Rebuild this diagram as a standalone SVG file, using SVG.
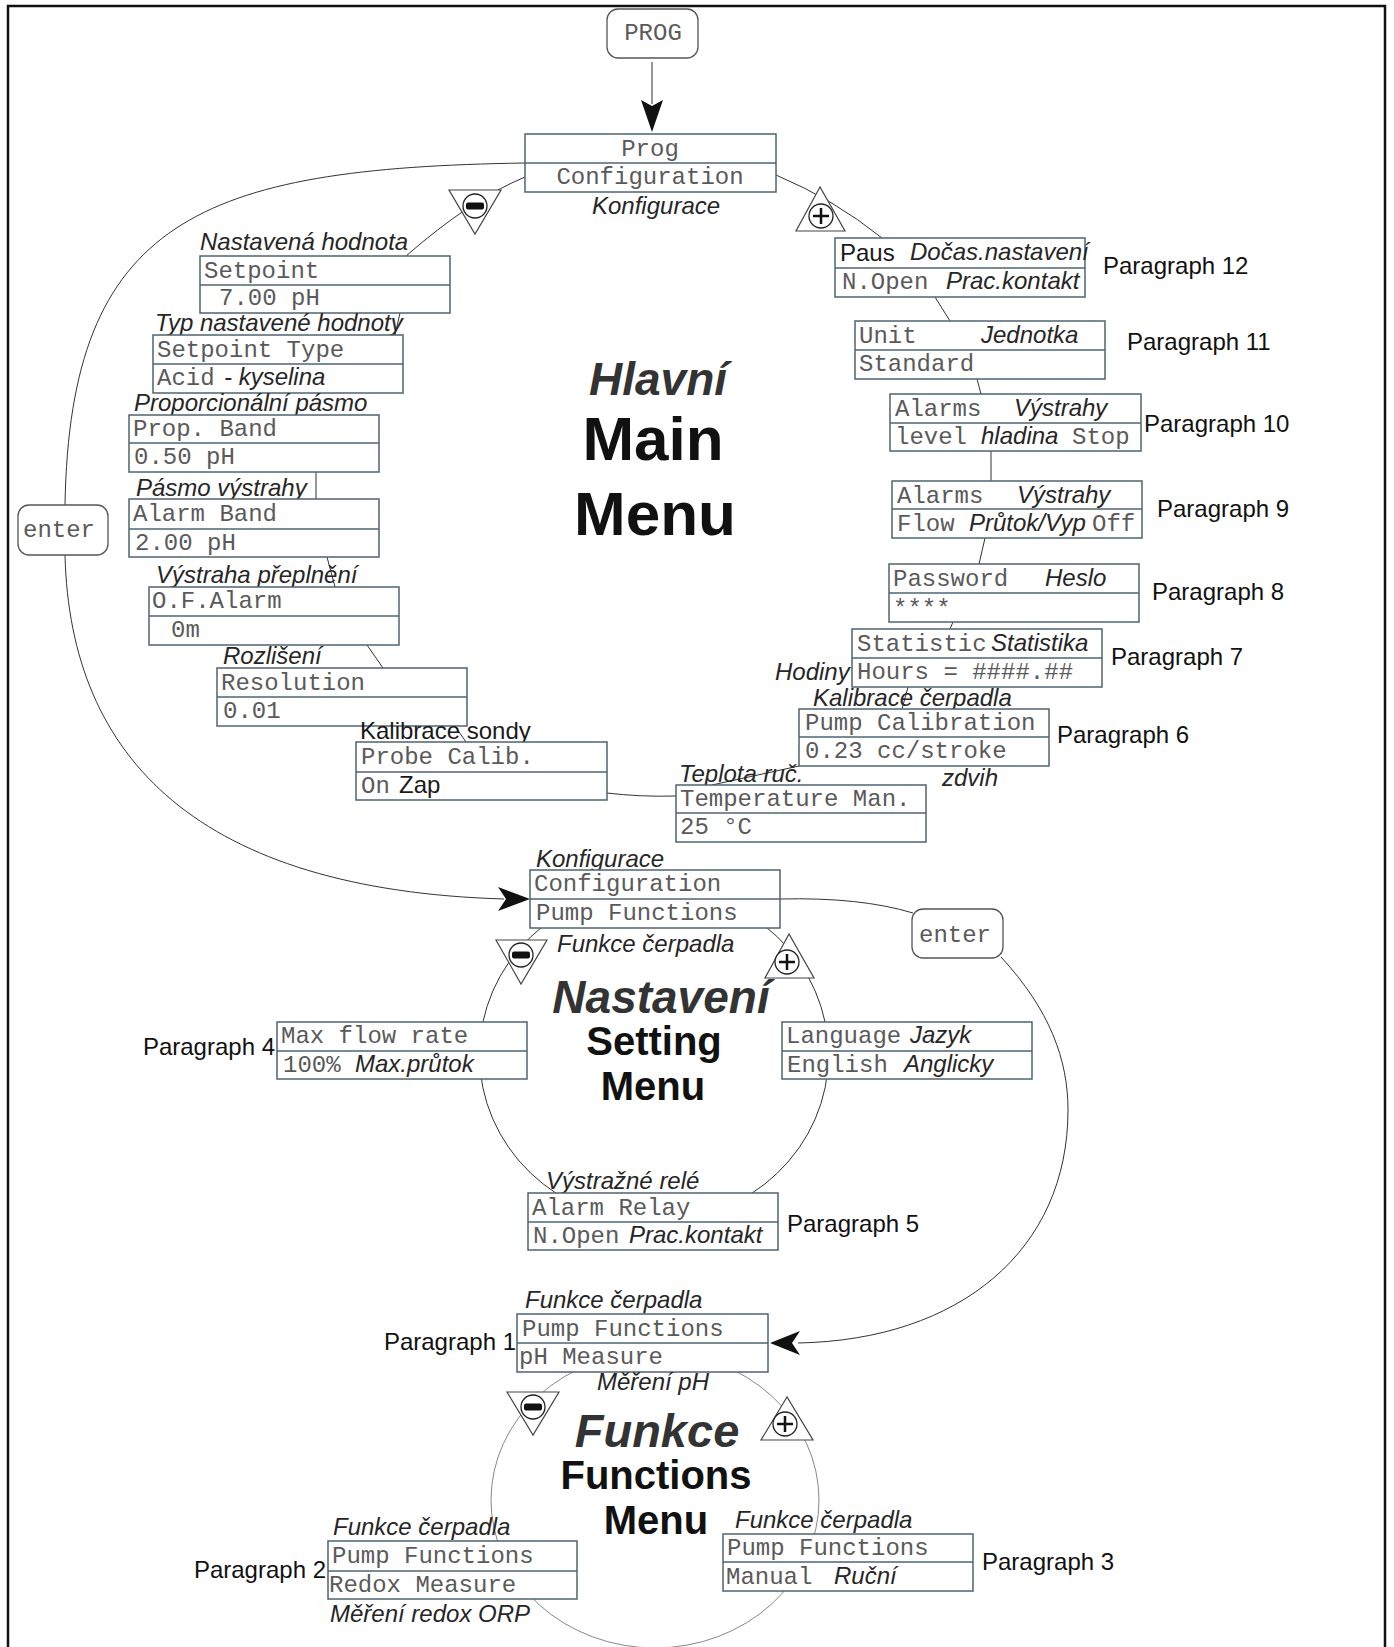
<svg xmlns="http://www.w3.org/2000/svg" width="1394" height="1647" viewBox="0 0 1394 1647">
<style>
.box{fill:#fff;stroke:#4d6470;stroke-width:1.5}
.dv{stroke:#4d6470;stroke-width:1.5}
.rbox{fill:#fff;stroke:#555;stroke-width:1.3}
.m{font-family:"Liberation Mono","Courier New",monospace;font-size:24px;fill:#5a5a5a}
.i{font-family:"Liberation Sans",Arial,sans-serif;font-style:italic;font-size:24px;fill:#262626}
.u{font-family:"Liberation Sans",Arial,sans-serif;font-size:24px;fill:#1a1a1a}
.p{font-family:"Liberation Sans",Arial,sans-serif;font-size:24px;fill:#111}
.ti{font-family:"Liberation Sans",Arial,sans-serif;font-style:italic;font-weight:bold;fill:#333;text-anchor:middle}
.tb{font-family:"Liberation Sans",Arial,sans-serif;font-weight:bold;fill:#111;text-anchor:middle}
.c{fill:none;stroke:#333;stroke-width:1}
.cl{fill:none;stroke:#888;stroke-width:1}
.tri{fill:#fff;stroke:#444;stroke-width:1.2}
.ring{fill:#fff;stroke:#222;stroke-width:1.3}
.ah{fill:#111}
</style>
<rect x="8" y="6" width="1377" height="1660" fill="#fff" stroke="#111" stroke-width="2.5"/>

<g id="connectors">
  <path class="c" d="M652,62 V104"/>
  <polygon class="ah" points="641,100 652,132 663,100 652,106"/>
  <path class="c" d="M525,163 C200,168 70,220 65,505"/>
  <path class="c" d="M65,555 C70,760 200,890 504,899"/>
  <polygon class="ah" points="530,899 498,887 506,899 498,911"/>
  <path class="c" d="M525,177 Q470,200 406,256"/>
  <path class="c" d="M776,175 Q835,200 882,238"/>
  <path class="c" d="M400,313 L395,335"/>
  <path class="c" d="M316,472 L316,499"/>
  <path class="c" d="M327,557 L335,587"/>
  <path class="c" d="M367,645 L383,668"/>
  <path class="c" d="M455,726 L466,742"/>
  <path class="c" d="M607,793 Q640,797 676,796"/>
  <path class="c" d="M799,766 L712,785"/>
  <path class="c" d="M902,709 L908,687"/>
  <path class="c" d="M950,629 L953,622"/>
  <path class="c" d="M979,564 L985,538"/>
  <path class="c" d="M991,481 L991,451"/>
  <path class="c" d="M981,394 L977,379"/>
  <path class="c" d="M950,321 L935,297"/>
  <ellipse class="c" cx="654" cy="1055" rx="174.5" ry="167"/>
  <path class="c" d="M780,899 Q860,897 913,913"/>
  <path class="c" d="M1001,957 C1050,1010 1068,1060 1068,1110 C1068,1250 960,1340 798,1343"/>
  <polygon class="ah" points="770,1343 800,1331 792,1343 800,1355"/>
  <ellipse class="cl" cx="655" cy="1500" rx="164" ry="148"/>
</g>

<g id="titles">
  <text class="ti" x="658" y="395" font-size="46">Hlavní</text>
  <text class="tb" x="653" y="460" font-size="62">Main</text>
  <text class="tb" x="655" y="535" font-size="62">Menu</text>
  <text class="ti" x="661" y="1013" font-size="46">Nastavení</text>
  <text class="tb" x="654" y="1055" font-size="40">Setting</text>
  <text class="tb" x="653" y="1100" font-size="40">Menu</text>
  <text class="ti" x="657" y="1447" font-size="47">Funkce</text>
  <text class="tb" x="656" y="1489" font-size="40">Functions</text>
  <text class="tb" x="656" y="1534" font-size="40">Menu</text>
</g>

<g id="prog-key">
  <rect class="rbox" x="607" y="9" width="91" height="49" rx="11"/>
  <text class="m" x="653" y="40" text-anchor="middle">PROG</text>
</g>
<g id="enter-key-1">
  <rect class="rbox" x="18" y="505" width="90" height="50" rx="11"/>
  <text class="m" x="23" y="537">enter</text>
</g>
<g id="enter-key-2">
  <rect class="rbox" x="912" y="909" width="91" height="49" rx="11"/>
  <text class="m" x="919" y="942">enter</text>
</g>

<g id="node-prog">
  <rect class="box" x="525" y="134" width="251" height="58"/>
  <line class="dv" x1="525" y1="163" x2="776" y2="163"/>
  <text class="m" x="650" y="156" text-anchor="middle">Prog</text>
  <text class="m" x="650" y="184" text-anchor="middle">Configuration</text>
  <text class="i" x="592" y="214">Konfigurace</text>
</g>

<g id="node-setpoint">
  <text class="i" x="200" y="250">Nastavená hodnota</text>
  <rect class="box" x="200" y="256" width="250" height="57"/>
  <line class="dv" x1="200" y1="285" x2="450" y2="285"/>
  <text class="m" x="204" y="278">Setpoint</text>
  <text class="m" x="219" y="305">7.00 pH</text>
</g>
<g id="node-setpoint-type">
  <text class="i" x="155" y="331">Typ nastavené hodnoty</text>
  <rect class="box" x="153" y="335" width="250" height="58"/>
  <line class="dv" x1="153" y1="364" x2="403" y2="364"/>
  <text class="m" x="157" y="357">Setpoint Type</text>
  <text class="m" x="157" y="385">Acid</text>
  <text class="i" x="224" y="385">- kyselina</text>
</g>
<g id="node-prop-band">
  <text class="i" x="134" y="411">Proporcionální pásmo</text>
  <rect class="box" x="129" y="415" width="250" height="57"/>
  <line class="dv" x1="129" y1="443" x2="379" y2="443"/>
  <text class="m" x="133" y="436">Prop. Band</text>
  <text class="m" x="134" y="464">0.50 pH</text>
</g>
<g id="node-alarm-band">
  <text class="i" x="136" y="496">Pásmo výstrahy</text>
  <rect class="box" x="129" y="499" width="250" height="58"/>
  <line class="dv" x1="129" y1="529" x2="379" y2="529"/>
  <text class="m" x="133" y="521">Alarm Band</text>
  <text class="m" x="135" y="550">2.00 pH</text>
</g>
<g id="node-of-alarm">
  <text class="i" x="156" y="583">Výstraha přeplnění</text>
  <rect class="box" x="149" y="587" width="250" height="58"/>
  <line class="dv" x1="149" y1="616" x2="399" y2="616"/>
  <text class="m" x="152" y="608">O.F.Alarm</text>
  <text class="m" x="171" y="637">0m</text>
</g>
<g id="node-resolution">
  <text class="i" x="223" y="664">Rozlišení</text>
  <rect class="box" x="217" y="668" width="250" height="58"/>
  <line class="dv" x1="217" y1="697" x2="467" y2="697"/>
  <text class="m" x="221" y="690">Resolution</text>
  <text class="m" x="223" y="718">0.01</text>
</g>
<g id="node-probe-calib">
  <text class="u" x="360" y="739">Kalibrace sondy</text>
  <rect class="box" x="356" y="742" width="251" height="58"/>
  <line class="dv" x1="356" y1="772" x2="607" y2="772"/>
  <text class="m" x="361" y="764">Probe Calib.</text>
  <text class="m" x="361" y="793">On</text>
  <text class="u" x="399" y="793">Zap</text>
</g>
<g id="node-temperature">
  <text class="i" x="679" y="782">Teplota ruč.</text>
  <rect class="box" x="676" y="785" width="250" height="57"/>
  <line class="dv" x1="676" y1="813" x2="926" y2="813"/>
  <text class="m" x="680" y="806">Temperature Man.</text>
  <text class="m" x="680" y="834">25 °C</text>
</g>
<g id="node-pump-calibration">
  <text class="i" x="813" y="706">Kalibrace čerpadla</text>
  <rect class="box" x="799" y="709" width="250" height="57"/>
  <line class="dv" x1="799" y1="737" x2="1049" y2="737"/>
  <text class="m" x="805" y="730">Pump Calibration</text>
  <text class="m" x="805" y="758">0.23 cc/stroke</text>
  <text class="i" x="942" y="786">zdvih</text>
  <text class="p" x="1057" y="743">Paragraph 6</text>
</g>
<g id="node-statistic">
  <rect class="box" x="852" y="629" width="250" height="58"/>
  <line class="dv" x1="852" y1="658" x2="1102" y2="658"/>
  <text class="m" x="857" y="651">Statistic</text>
  <text class="i" x="991" y="651">Statistika</text>
  <text class="m" x="857" y="679">Hours = ####.##</text>
  <text class="i" x="775" y="680">Hodiny</text>
  <text class="p" x="1111" y="665">Paragraph 7</text>
</g>
<g id="node-password">
  <rect class="box" x="889" y="564" width="250" height="58"/>
  <line class="dv" x1="889" y1="593" x2="1139" y2="593"/>
  <text class="m" x="893" y="586">Password</text>
  <text class="i" x="1045" y="586">Heslo</text>
  <text class="m" x="893" y="616">****</text>
  <text class="p" x="1152" y="600">Paragraph 8</text>
</g>
<g id="node-alarms-flow">
  <rect class="box" x="892" y="481" width="250" height="57"/>
  <line class="dv" x1="892" y1="509" x2="1142" y2="509"/>
  <text class="m" x="897" y="503">Alarms</text>
  <text class="i" x="1017" y="503">Výstrahy</text>
  <text class="m" x="897" y="531">Flow</text>
  <text class="i" x="969" y="531">Průtok/Vyp</text>
  <text class="m" x="1092" y="531">Off</text>
  <text class="p" x="1157" y="517">Paragraph 9</text>
</g>
<g id="node-alarms-level">
  <rect class="box" x="890" y="394" width="251" height="57"/>
  <line class="dv" x1="890" y1="423" x2="1141" y2="423"/>
  <text class="m" x="895" y="416">Alarms</text>
  <text class="i" x="1014" y="416">Výstrahy</text>
  <text class="m" x="895" y="444">level</text>
  <text class="i" x="981" y="444">hladina</text>
  <text class="m" x="1072" y="444">Stop</text>
  <text class="p" x="1144" y="432">Paragraph 10</text>
</g>
<g id="node-unit">
  <rect class="box" x="855" y="321" width="250" height="58"/>
  <line class="dv" x1="855" y1="350" x2="1105" y2="350"/>
  <text class="m" x="859" y="343">Unit</text>
  <text class="i" x="981" y="343">Jednotka</text>
  <text class="m" x="859" y="371">Standard</text>
  <text class="p" x="1127" y="350">Paragraph 11</text>
</g>
<g id="node-paus">
  <rect class="box" x="835" y="238" width="250" height="59"/>
  <line class="dv" x1="835" y1="268" x2="1085" y2="268"/>
  <text class="u" x="840" y="261" font-size="28">Paus</text>
  <text class="i" x="910" y="260">Dočas.nastavení</text>
  <text class="m" x="842" y="289">N.Open</text>
  <text class="i" x="946" y="289">Prac.kontakt</text>
  <text class="p" x="1103" y="274">Paragraph 12</text>
</g>

<g id="node-config-pump">
  <text class="i" x="536" y="867">Konfigurace</text>
  <rect class="box" x="530" y="870" width="250" height="58"/>
  <line class="dv" x1="530" y1="899" x2="780" y2="899"/>
  <text class="m" x="534" y="891">Configuration</text>
  <text class="m" x="536" y="920">Pump Functions</text>
  <text class="i" x="557" y="952">Funkce čerpadla</text>
</g>
<g id="node-max-flow">
  <rect class="box" x="277" y="1022" width="250" height="57"/>
  <line class="dv" x1="277" y1="1051" x2="527" y2="1051"/>
  <text class="m" x="281" y="1043">Max flow rate</text>
  <text class="m" x="283" y="1072">100%</text>
  <text class="i" x="355" y="1072">Max.průtok</text>
  <text class="p" x="275" y="1055" text-anchor="end">Paragraph 4</text>
</g>
<g id="node-language">
  <rect class="box" x="782" y="1022" width="250" height="57"/>
  <line class="dv" x1="782" y1="1051" x2="1032" y2="1051"/>
  <text class="m" x="786" y="1043">Language</text>
  <text class="i" x="910" y="1043">Jazyk</text>
  <text class="m" x="787" y="1072">English</text>
  <text class="i" x="904" y="1072">Anglicky</text>
</g>
<g id="node-alarm-relay">
  <text class="i" x="546" y="1189">Výstražné relé</text>
  <rect class="box" x="528" y="1193" width="250" height="57"/>
  <line class="dv" x1="528" y1="1222" x2="778" y2="1222"/>
  <text class="m" x="532" y="1215">Alarm Relay</text>
  <text class="m" x="533" y="1243">N.Open</text>
  <text class="i" x="629" y="1243">Prac.kontakt</text>
  <text class="p" x="787" y="1232">Paragraph 5</text>
</g>

<g id="node-ph-measure">
  <text class="i" x="525" y="1308">Funkce čerpadla</text>
  <rect class="box" x="517" y="1314" width="251" height="58"/>
  <line class="dv" x1="517" y1="1343" x2="768" y2="1343"/>
  <text class="m" x="522" y="1336">Pump Functions</text>
  <text class="m" x="519" y="1364">pH Measure</text>
  <text class="i" x="597" y="1390">Měření pH</text>
  <text class="p" x="516" y="1350" text-anchor="end">Paragraph 1</text>
</g>
<g id="node-redox">
  <text class="i" x="333" y="1535">Funkce čerpadla</text>
  <rect class="box" x="328" y="1541" width="249" height="58"/>
  <line class="dv" x1="328" y1="1571" x2="577" y2="1571"/>
  <text class="m" x="332" y="1563">Pump Functions</text>
  <text class="m" x="329" y="1592">Redox Measure</text>
  <text class="i" x="330" y="1622">Měření redox ORP</text>
  <text class="p" x="326" y="1578" text-anchor="end">Paragraph 2</text>
</g>
<g id="node-manual">
  <text class="i" x="735" y="1528">Funkce čerpadla</text>
  <rect class="box" x="723" y="1534" width="250" height="57"/>
  <line class="dv" x1="723" y1="1562" x2="973" y2="1562"/>
  <text class="m" x="727" y="1555">Pump Functions</text>
  <text class="m" x="726" y="1584">Manual</text>
  <text class="i" x="834" y="1584">Ruční</text>
  <text class="p" x="982" y="1570">Paragraph 3</text>
</g>

<g id="key-minus-main">
  <polygon class="tri" points="449,190 501,190 475,234"/>
  <circle class="ring" cx="475" cy="206" r="12"/>
  <rect x="466" y="202.5" width="18" height="7" rx="2" fill="#111"/>
</g>
<g id="key-plus-main">
  <polygon class="tri" points="820,187 796,231 845,231"/>
  <circle class="ring" cx="821" cy="216" r="12"/>
  <path d="M813,216 H829 M821,208 V224" stroke="#111" stroke-width="2.5"/>
</g>
<g id="key-minus-setting">
  <polygon class="tri" points="496,940 547,940 521,984"/>
  <circle class="ring" cx="521" cy="955" r="12"/>
  <rect x="512" y="951.5" width="18" height="7" rx="2" fill="#111"/>
</g>
<g id="key-plus-setting">
  <polygon class="tri" points="789,934 765,978 814,978"/>
  <circle class="ring" cx="787" cy="962" r="12"/>
  <path d="M779,962 H795 M787,954 V970" stroke="#111" stroke-width="2.5"/>
</g>
<g id="key-minus-functions">
  <polygon class="tri" points="507,1392 559,1392 533,1435"/>
  <circle class="ring" cx="533" cy="1407" r="12"/>
  <rect x="524" y="1403.5" width="18" height="7" rx="2" fill="#111"/>
</g>
<g id="key-plus-functions">
  <polygon class="tri" points="787,1397 761,1440 813,1440"/>
  <circle class="ring" cx="785" cy="1424" r="12"/>
  <path d="M777,1424 H793 M785,1416 V1432" stroke="#111" stroke-width="2.5"/>
</g>
</svg>
